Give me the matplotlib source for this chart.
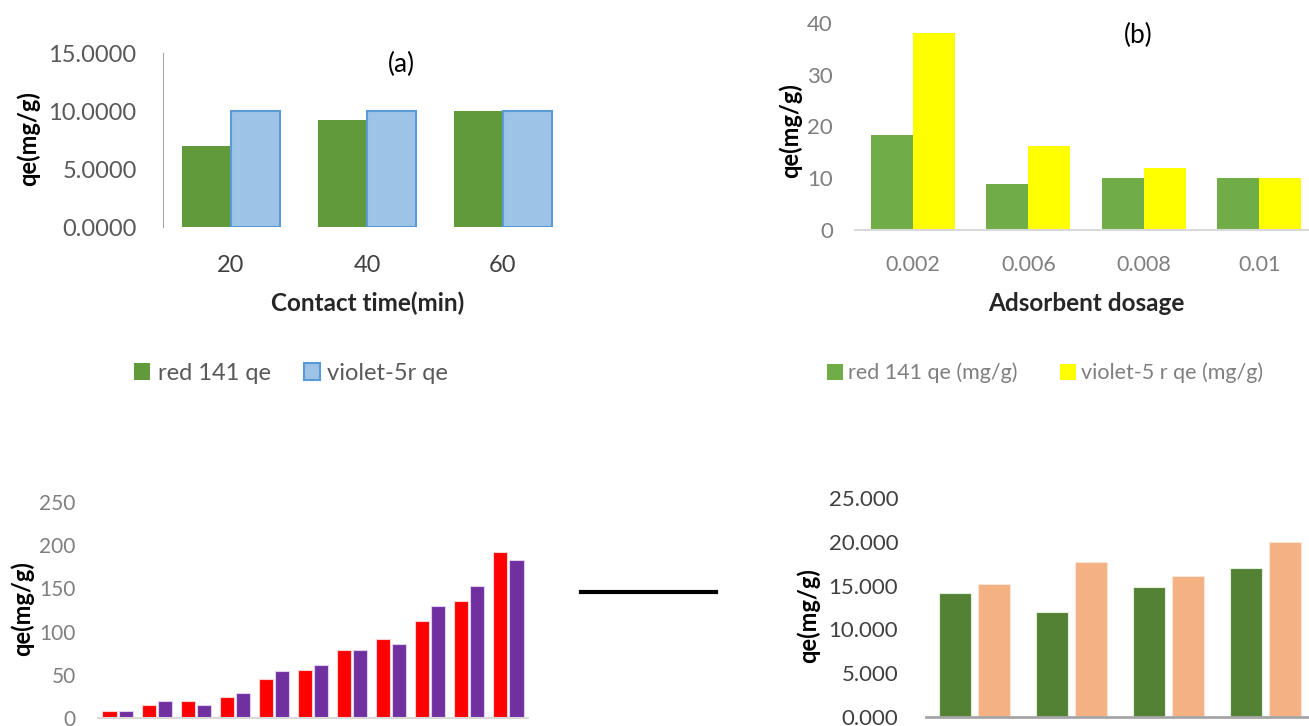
import numpy as np
import matplotlib.pyplot as plt

plt.rcParams['font.family'] = ['Lato', 'DejaVu Sans']

W, H = 1309, 726

# (a) contact time
time_labels = ["20", "40", "60"]
a_red = [7.0, 9.2, 10.0]
a_violet = [10.0, 10.0, 10.0]

# (b) adsorbent dosage
dose_labels = ["0.002", "0.006", "0.008", "0.01"]
b_red = [18.3, 8.8, 10.0, 10.0]
b_violet = [38.0, 16.2, 11.9, 10.0]

# (c) eleven pairs
c_red = [8, 15, 20, 24, 45, 56, 79, 91, 112, 135, 192]
c_violet = [8, 20, 15, 29, 54, 61, 79, 86, 130, 153, 183]

# (d) four pairs
d_green = [14.2, 12.0, 14.8, 17.0]
d_orange = [15.2, 17.7, 16.1, 20.0]


def px_axes(fig, left, right, top, bottom):
    return fig.add_axes([left / W, 1 - bottom / H, (right - left) / W, (bottom - top) / H])


def clean(ax):
    for s in ax.spines.values():
        s.set_visible(False)
    ax.tick_params(length=0)


def ylab(ax, fig, xc, yc):
    ax.set_ylabel("qe(mg/g)", fontsize=17, fontweight="bold", va="center")
    ax.yaxis.set_label_coords(xc / W, 1 - yc / H, transform=fig.transFigure)


fig = plt.figure(figsize=(W / 100, H / 100), dpi=100)

# ---- panel (a)
ax = px_axes(fig, 163, 571, 53, 227)
x = np.arange(len(time_labels))
g1 = ax.bar(x - 0.18, a_red, 0.36, color="#619a3b", label="red 141 qe")
g2 = ax.bar(x + 0.18, a_violet, 0.36, color="#9dc3e6", edgecolor="#5b9bd5",
            linewidth=1.5, label="violet-5r qe")
ax.set_xlim(-0.5, 2.5)
ax.set_ylim(0, 15)
ax.set_yticks([0, 5, 10, 15])
ax.set_yticklabels(["%.4f" % v for v in [0, 5, 10, 15]])
ax.set_xticks(x)
ax.set_xticklabels(time_labels)
clean(ax)
ax.spines["left"].set_visible(True)
ax.spines["left"].set_color("#a6a6a6")
ax.tick_params(axis="y", pad=19, labelsize=17, labelcolor="#595959")
ax.tick_params(axis="x", pad=20, labelsize=17, labelcolor="#404040")
ylab(ax, fig, 28, 139)
fig.text(368 / W, 1 - 303 / H, "Contact time(min)", ha="center", va="center",
         fontsize=17.5, fontweight="bold", color="#262626")
fig.text(401 / W, 1 - 64 / H, "(a)", ha="center", va="center", fontsize=19)
fig.legend(handles=[g1, g2], loc="center", bbox_to_anchor=(291 / W, 1 - 373 / H),
           ncol=2, frameon=False, fontsize=17, labelcolor="#595959",
           handlelength=0.7, handleheight=0.7, handletextpad=0.3, columnspacing=1.4)

# ---- panel (b)
ax = px_axes(fig, 855, 1317, 23, 230)
x = np.arange(len(dose_labels))
h1 = ax.bar(x - 0.182, b_red, 0.364, color="#70ad47", label="red 141 qe (mg/g)")
h2 = ax.bar(x + 0.182, b_violet, 0.364, color="#ffff00", label="violet-5 r qe (mg/g)")
ax.set_xlim(-0.5, 3.5)
ax.set_ylim(0, 40)
ax.set_yticks([0, 10, 20, 30, 40])
ax.set_xticks(x)
ax.set_xticklabels(dose_labels)
clean(ax)
ax.spines["bottom"].set_visible(True)
ax.spines["bottom"].set_color("#d9d9d9")
ax.spines["bottom"].set_linewidth(1.5)
ax.tick_params(axis="y", pad=16, labelsize=16, labelcolor="#7f7f7f")
ax.tick_params(axis="x", pad=18, labelsize=15.5, labelcolor="#7f7f7f")
ylab(ax, fig, 790, 131)
fig.text(1086 / W, 1 - 303 / H, "Adsorbent dosage", ha="center", va="center",
         fontsize=17.5, fontweight="bold", color="#262626")
fig.text(1138 / W, 1 - 35 / H, "(b)", ha="center", va="center", fontsize=19)
fig.legend(handles=[h1, h2], loc="center", bbox_to_anchor=(1045 / W, 1 - 373 / H),
           ncol=2, frameon=False, fontsize=15.5, labelcolor="#7f7f7f",
           handlelength=0.75, handleheight=0.75, handletextpad=0.2, columnspacing=2.0)

# ---- panel (c)
ax = px_axes(fig, 98, 528, 502, 718)
x = np.arange(len(c_red))
ax.bar(x - 0.205, c_red, 0.36, color="#ff0000", edgecolor="#ffd0d0", linewidth=0.8)
ax.bar(x + 0.205, c_violet, 0.36, color="#7030a0", edgecolor="#e0d0f0", linewidth=0.8)
ax.set_xlim(-0.5, len(c_red) - 0.5)
ax.set_ylim(0, 250)
ax.set_yticks(range(0, 251, 50))
ax.set_xticks([])
clean(ax)
ax.spines["bottom"].set_visible(True)
ax.spines["bottom"].set_color("#d9d9d9")
ax.spines["bottom"].set_linewidth(1.5)
ax.tick_params(axis="y", pad=16, labelsize=15, labelcolor="#7f7f7f")
ylab(ax, fig, 22, 609)

# black dash between the lower panels
fig.add_artist(plt.Line2D([581 / W, 716 / W], [1 - 592 / H, 1 - 592 / H],
                          color="black", linewidth=3))

# ---- panel (d)
ax = px_axes(fig, 926, 1314, 498, 717)
x = np.arange(len(d_green))
ax.bar(x - 0.206, d_green, 0.33, color="#548235", edgecolor="#e2efda", linewidth=0.8)
ax.bar(x + 0.206, d_orange, 0.33, color="#f4b183", edgecolor="#fbe5d6", linewidth=0.8)
ax.set_xlim(-0.5, len(d_green) - 0.5)
ax.set_ylim(0, 25)
ax.set_yticks(range(0, 26, 5))
ax.set_yticklabels(["%.3f" % v for v in range(0, 26, 5)])
ax.set_xticks([])
clean(ax)
ax.spines["bottom"].set_visible(True)
ax.spines["bottom"].set_color("#a6a6a6")
ax.spines["bottom"].set_linewidth(2)
ax.tick_params(axis="y", pad=20, labelsize=16, labelcolor="#404040")
ylab(ax, fig, 808, 616)

fig.savefig("out.png", dpi=100)
